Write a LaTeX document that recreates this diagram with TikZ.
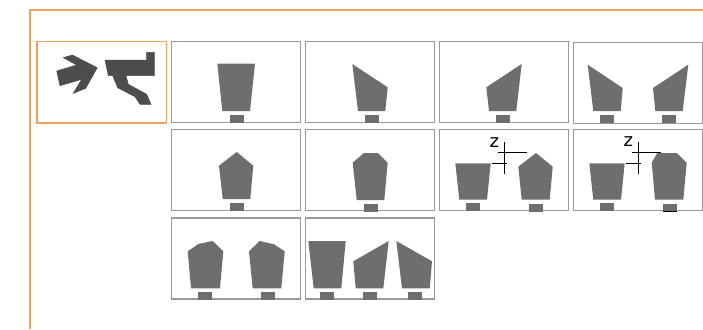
\documentclass[tikz,border=0pt]{standalone}
\usepackage{fontspec}
\setmainfont{DejaVu Sans}
\definecolor{edgeorange}{HTML}{F2A05A}
\definecolor{panelgray}{HTML}{9A9A9A}
\definecolor{blockgray}{HTML}{6E6E6C}
\definecolor{icondark}{HTML}{4D4D4D}
\begin{document}
\begin{tikzpicture}[x=1pt,y=-1pt,
  outer/.style={draw=edgeorange,line width=1.2pt},
  iconbox/.style={draw=edgeorange,line width=1.1pt},
  panel/.style={draw=panelgray,line width=1.2pt},
  block/.style={fill=blockgray},
  foot/.style={fill=blockgray},
  icon/.style={fill=icondark,draw=icondark,line width=0.5pt},
  guide/.style={draw=black,line width=0.7pt},
  axislabel/.style={font=\fontsize{18}{18}\selectfont,inner sep=0pt,text=black}]
  \useasboundingbox (0,0) rectangle (703,329);
  \draw[outer] (30,329) -- (30,10) -- (703,10);
  \draw[iconbox] (37,41.7) rectangle (166.5,123);
  \foreach \x/\y in {171.7/41.7,305.7/41.7,439.7/41.7,573.5/42.3,
                     171.7/129.7,305.7/129.7,439.7/129.7,573.5/129.7,
                     171.7/218,305.7/218}
    \draw[panel] (\x,\y) rectangle ++(129,81);
  \fill[icon] (63.3,57.7) -- (72.3,55) -- (97.3,67.7) -- (85.7,88.3) -- (73.3,93.3) -- (81.7,79.3) -- (60,85.7) -- (56.7,71) -- (76.7,65) -- cycle;
  \fill[icon] (105,60) -- (146.7,60) -- (146.7,52.3) -- (154.3,52.3) -- (154.3,75.7) -- (126,75.7) -- (128.3,84.3) -- (146.7,94.3) -- (151,104.3) -- (140,104.3) -- (135,96.7) -- (117.7,87.7) -- (112.7,75.7) -- (108.3,75.7) -- cycle;
  \fill[block] (217.3,63.7) -- (255,63.7) -- (250,111) -- (222.3,111) -- cycle;
  \fill[block] (352.3,64) -- (387.7,87.3) -- (385.3,111) -- (358,111) -- cycle;
  \fill[block] (521.7,64) -- (486.3,87.3) -- (489,111) -- (516.3,111) -- cycle;
  \fill[block] (587.7,64.7) -- (622.7,88) -- (620.7,111) -- (593.3,111) -- cycle;
  \fill[block] (688.3,64.7) -- (653,88) -- (655.3,111) -- (682.7,111) -- cycle;
  \fill[block] (236.7,152) -- (253.3,165.7) -- (250.3,199) -- (222.7,199) -- (219,165.7) -- cycle;
  \fill[block] (364,153) -- (377.7,153) -- (387.7,162.7) -- (384.3,200) -- (356.7,200) -- (352.7,162.7) -- cycle;
  \fill[block] (455.3,163.3) -- (490.7,163.3) -- (487,199.7) -- (459.3,199.7) -- cycle;
  \fill[block] (536,153) -- (552.7,166.7) -- (549.7,199.7) -- (521.7,199.7) -- (518.3,166.7) -- cycle;
  \fill[block] (589.3,163.3) -- (624.7,163.3) -- (621,199.7) -- (593.3,199.7) -- cycle;
  \fill[block] (657.3,153) -- (676.7,153) -- (686.7,162.7) -- (683.3,199.7) -- (655,199.7) -- (651.7,162.7) -- cycle;
  \fill[block] (187.7,251.3) -- (198.3,244) -- (212.7,241) -- (223.3,251.3) -- (220,288.3) -- (191,288.3) -- cycle;
  \fill[block] (249,251.3) -- (259.7,241) -- (274,244.3) -- (284.7,251.3) -- (281.3,288.3) -- (252.7,288.3) -- cycle;
  \fill[block] (308.3,241) -- (345.7,241) -- (341.3,288.3) -- (313.7,288.3) -- cycle;
  \fill[block] (388.7,241) -- (353.3,261.3) -- (355.7,288.3) -- (383.3,288.3) -- cycle;
  \fill[block] (396.3,241) -- (432,261.3) -- (429.7,288.3) -- (402,288.3) -- cycle;
  \foreach \x/\y in {230/115,365/115,496/115,600/115,662/115,
                     230/203,364/204,466/203,529/204,600/203,663/204,
                     198/292,261/292,320/292,363/292,408/292}
    \fill[foot] (\x,\y) rectangle ++(14,7.5);
  \draw[black,line width=0.9pt] (663,211.3) -- (677,211.3);
  \foreach \x in {0,134}{
    \draw[guide] (497.7+\x,152.3) -- (526.7+\x,152.3);
    \draw[guide] (504.3+\x,142.3) -- (504.3+\x,174.3);
    \draw[guide] (491.7+\x,163.3) -- (507+\x,163.3);
  }
  \node[axislabel] (zleft) at (494.3,142.3) {z};
  \node[axislabel] (zright) at (628.3,141.7) {z};
\end{tikzpicture}
\end{document}
